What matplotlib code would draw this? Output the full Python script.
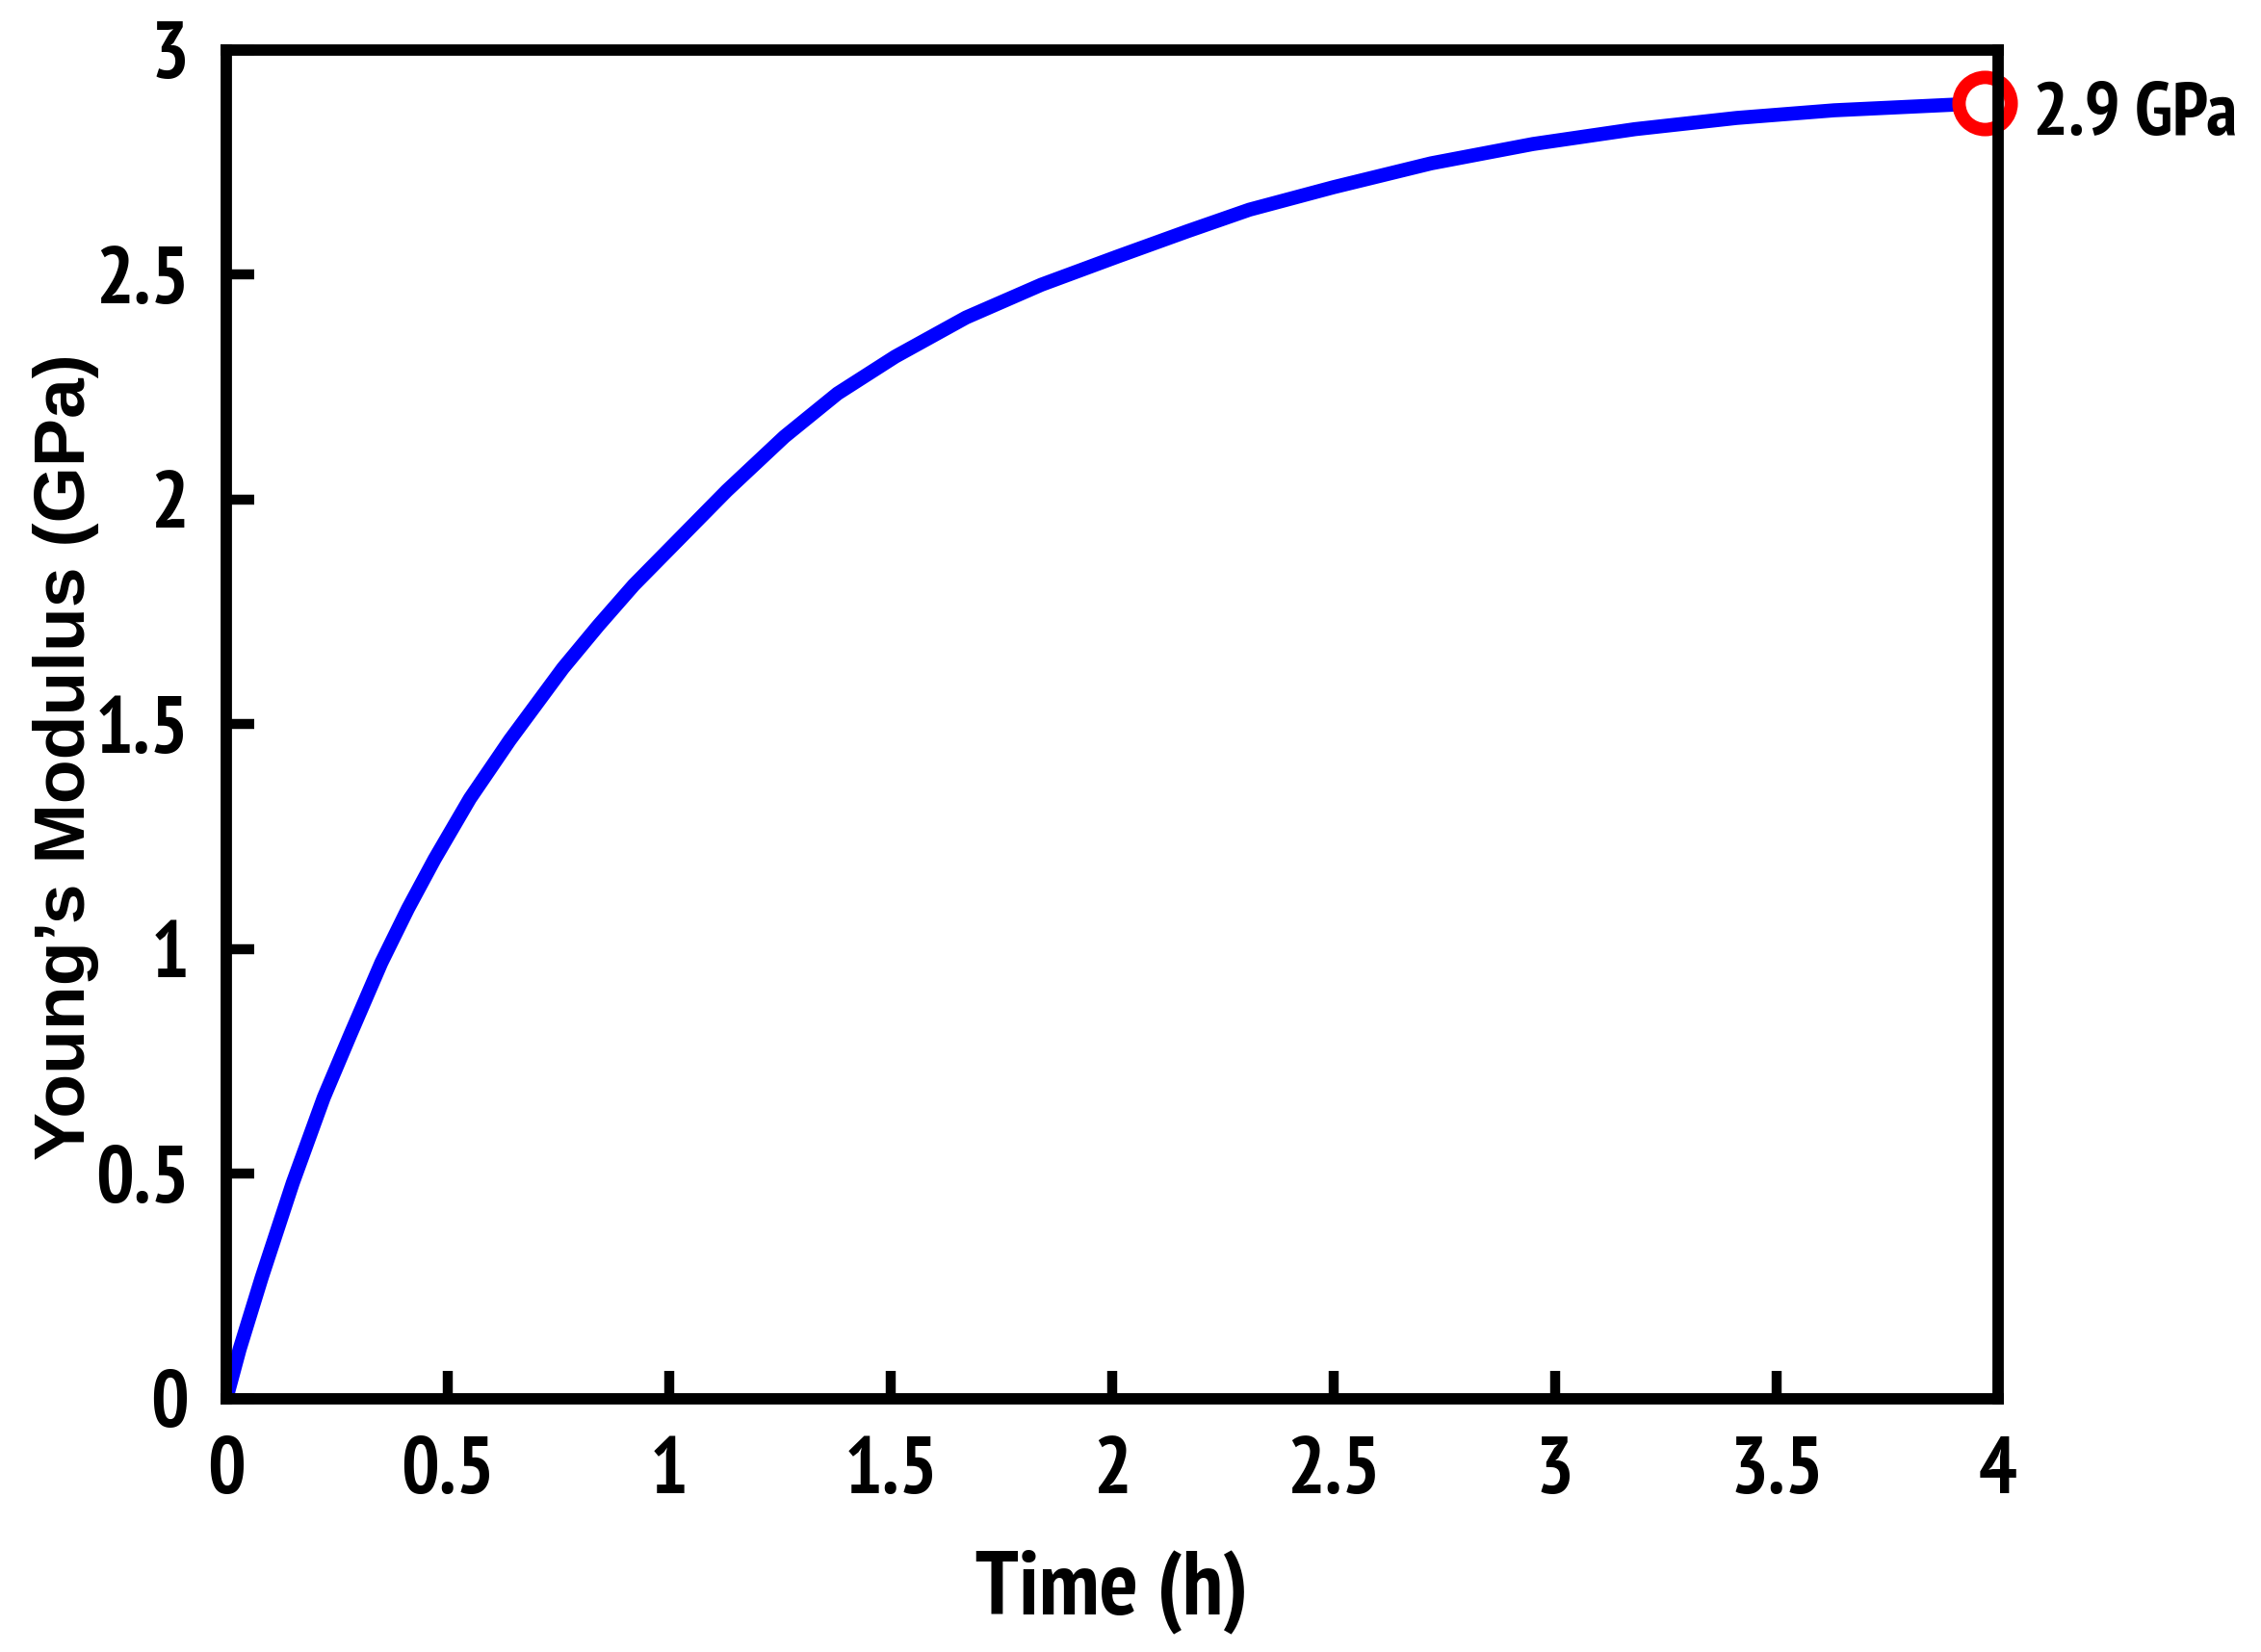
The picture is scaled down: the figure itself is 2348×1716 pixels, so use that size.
import matplotlib
matplotlib.use("Agg")
import matplotlib.pyplot as plt

# curve
time_h = [0, 0.03, 0.08, 0.12, 0.15, 0.22, 0.28, 0.35, 0.41, 0.47, 0.55, 0.64, 0.76,
          0.84, 0.92, 1.01, 1.13, 1.26, 1.38, 1.51, 1.67, 1.84, 2.01, 2.17, 2.31,
          2.50, 2.72, 2.95, 3.18, 3.41, 3.63, 3.91, 3.97]
modulus = [0, 0.11, 0.27, 0.39, 0.48, 0.67, 0.81, 0.97, 1.09, 1.20, 1.335, 1.465, 1.625,
           1.72, 1.81, 1.90, 2.02, 2.14, 2.236, 2.318, 2.405, 2.478, 2.540, 2.597, 2.645,
           2.695, 2.748, 2.791, 2.824, 2.849, 2.866, 2.879, 2.882]
end_label = "2.9 GPa"

x_ticks = [0, 0.5, 1, 1.5, 2, 2.5, 3, 3.5, 4]
x_ticklabels = ["0", "0.5", "1", "1.5", "2", "2.5", "3", "3.5", "4"]
y_ticks = [0, 0.5, 1, 1.5, 2, 2.5, 3]
y_ticklabels = ["0", "0.5", "1", "1.5", "2", "2.5", "3"]

narrow = ["PT Sans Narrow", "Liberation Sans", "DejaVu Sans"]
wide = ["Liberation Sans", "DejaVu Sans"]

fig = plt.figure(figsize=(23.48, 17.16), dpi=100)
ax = fig.add_axes([0.1001, 0.1533, 0.7836, 0.8164])

ax.plot(time_h, modulus, color="#0000ff", lw=10.5, solid_capstyle="round",
        solid_joinstyle="round", zorder=3)
ax.plot(time_h[-1], modulus[-1], "o", ms=39, mfc="white", mec="#ff0000", mew=10,
        zorder=4, clip_on=False)
ax.annotate(end_label, xy=(time_h[-1], modulus[-1]), xytext=(36, -10),
            textcoords="offset points", ha="left", va="center",
            fontsize=56, fontweight="bold", family=narrow, annotation_clip=False)

ax.set_xlim(0, 4)
ax.set_ylim(0, 3)
ax.set_xticks(x_ticks)
ax.set_xticklabels(x_ticklabels)
ax.set_yticks(y_ticks)
ax.set_yticklabels(y_ticklabels)

for s in ax.spines.values():
    s.set_linewidth(8.5)
    s.set_color("black")
    s.set_zorder(5)

ax.tick_params(axis="both", direction="in", length=21, width=7.5, pad=28,
               top=False, right=False)
for lab in ax.get_xticklabels() + ax.get_yticklabels():
    lab.set_family(narrow)
    lab.set_fontweight("bold")
    lab.set_fontsize(60)

ax.set_xlabel("Time (h)", fontsize=68, fontweight="bold", family=narrow)
ax.set_ylabel("Young\u2019s Modulus (GPa)", fontsize=54, fontweight="bold", family=wide)
ax.xaxis.set_label_coords(0.5, -0.112)
ax.yaxis.set_label_coords(-0.0718, 0.476)

fig.savefig("out.png", dpi=100, facecolor="white")
